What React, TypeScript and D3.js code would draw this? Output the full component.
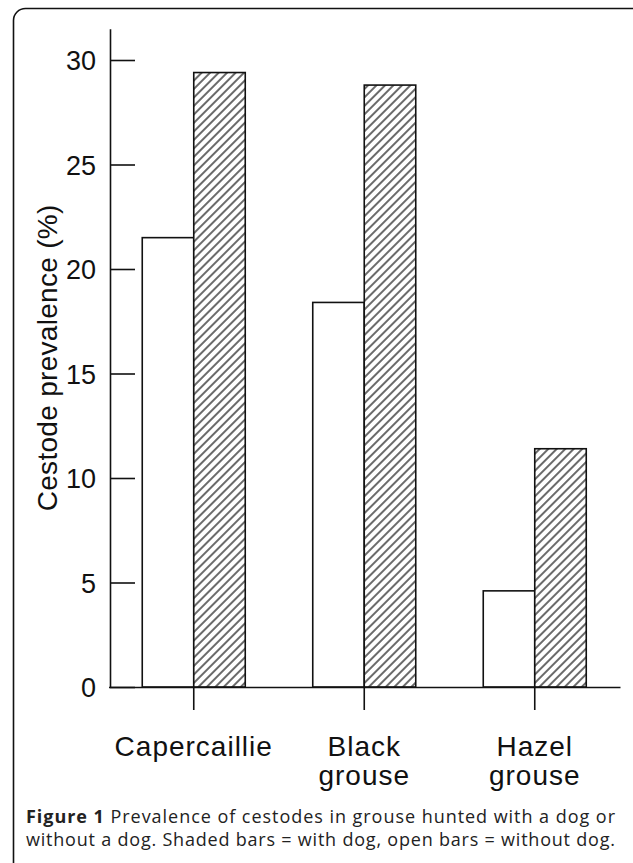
import React, { useRef, useEffect } from 'react'
import * as d3 from 'd3'

// values (% prevalence)
const categories = ['Capercaillie', 'Black grouse', 'Hazel grouse'];
const categoryLines = [['Capercaillie'], ['Black', 'grouse'], ['Hazel', 'grouse']];
const series = ['without', 'with'];
const withoutDog = [21.5, 18.4, 4.6];
const withDog = [29.4, 28.8, 11.4];
const yTicks = [0, 5, 10, 15, 20, 25, 30];
const yLabel = 'Cestode prevalence (%)';
const captionBold = 'Figure 1';
const captionLine1 = ' Prevalence of cestodes in grouse hunted with a dog or';
const captionLine2 = 'without a dog. Shaded bars = with dog, open bars = without dog.';

export default function App() {
    const visEl = useRef(null);
    const width = 633;
    const height = 863;

    useEffect(() => {
        const svg = d3
            .select(visEl.current)
            .append('svg')
            .attr('width', width)
            .attr('height', height)
            .style('position', 'absolute')
            .style('left', 0)
            .style('top', 0);

        const axisFont = '"Liberation Sans", Arial, sans-serif';
        const ink = '#111';

        // frame around the figure (bottom edge runs off the page)
        svg.append('rect')
            .attr('x', 13.5)
            .attr('y', 8.5)
            .attr('width', 640)
            .attr('height', 900)
            .attr('rx', 12)
            .attr('fill', 'none')
            .attr('stroke', ink)
            .attr('stroke-width', 1.6);

        const defs = svg.append('defs');
        const pat = defs.append('pattern')
            .attr('id', 'hatch')
            .attr('patternUnits', 'userSpaceOnUse')
            .attr('width', 6)
            .attr('height', 6)
            .attr('patternTransform', 'rotate(45)');
        pat.append('rect').attr('width', 6).attr('height', 6).attr('fill', '#fff');
        pat.append('line')
            .attr('x1', 3).attr('y1', 0).attr('x2', 3).attr('y2', 6)
            .attr('stroke', ink)
            .attr('stroke-width', 1.25);

        const x = d3.scaleBand().domain(categories).range([108.5, 620]);
        const xInner = d3.scaleBand().domain(series).range([-51.5, 51.5]);
        const y = d3.scaleLinear().domain([0, 31.5]).range([687, 28.65]);

        const g = svg.append('g');

        const rows = categories.map((c, i) => ({ c, without: withoutDog[i], with: withDog[i] }));

        const groups = g.selectAll('g.cat')
            .data(rows)
            .enter()
            .append('g')
            .attr('class', 'cat')
            .attr('transform', d => `translate(${x(d.c) + x.bandwidth() / 2},0)`);

        groups.selectAll('rect')
            .data(d => series.map(s => ({ s, v: d[s] })))
            .enter()
            .append('rect')
            .attr('x', d => xInner(d.s))
            .attr('y', d => y(d.v))
            .attr('width', xInner.bandwidth())
            .attr('height', d => y(0) - y(d.v))
            .attr('fill', d => (d.s === 'with' ? 'url(#hatch)' : '#fff'))
            .attr('stroke', ink)
            .attr('stroke-width', 1.6);

        // y axis, ticks pointing into the plot
        const yAxis = d3.axisLeft(y)
            .tickValues(yTicks)
            .tickSize(-25)
            .tickSizeOuter(0)
            .tickPadding(14);
        const yAxisG = g.append('g')
            .attr('transform', `translate(${x.range()[0] + 1.5},0)`)
            .call(yAxis);
        yAxisG.selectAll('path, line').attr('stroke', ink).attr('stroke-width', 1.6);
        yAxisG.selectAll('text')
            .attr('font-family', axisFont)
            .attr('font-size', 27)
            .attr('fill', ink)
            .attr('dy', '0.36em');

        yAxisG.append('text')
            .attr('transform', 'rotate(-90)')
            .attr('x', -(y(0) + y(31.5)) / 2)
            .attr('y', -53)
            .attr('text-anchor', 'middle')
            .attr('fill', ink)
            .attr('font-family', axisFont)
            .attr('font-size', 28)
            .attr('letter-spacing', 0.3)
            .text(yLabel);

        // x axis with ticks below the baseline
        const xAxis = d3.axisBottom(x)
            .tickSize(23)
            .tickSizeOuter(0)
            .tickFormat(() => '');
        const xAxisG = g.append('g')
            .attr('transform', `translate(0,${y(0)})`)
            .call(xAxis);
        xAxisG.selectAll('path, line').attr('stroke', ink).attr('stroke-width', 1.6);

        const labels = g.selectAll('text.cat-label')
            .data(categories)
            .enter()
            .append('text')
            .attr('class', 'cat-label')
            .attr('text-anchor', 'middle')
            .attr('font-family', axisFont)
            .attr('font-size', 28)
            .attr('letter-spacing', 1)
            .attr('fill', ink);
        labels.selectAll('tspan')
            .data((d, i) => categoryLines[i])
            .enter()
            .append('tspan')
            .attr('x', function () {
                const c = d3.select(this.parentNode).datum();
                return x(c) + x.bandwidth() / 2;
            })
            .attr('y', (d, i) => 756 + i * 29)
            .text(d => d);

        // caption, both lines justified to the same width
        const cap = svg.append('g')
            .attr('font-family', '"Open Sans", sans-serif')
            .attr('font-size', 18)
            .attr('fill', '#222');
        const l1 = cap.append('text')
            .attr('x', 26)
            .attr('y', 823)
            .attr('textLength', 589)
            .attr('lengthAdjust', 'spacing');
        l1.append('tspan').attr('font-weight', 'bold').text(captionBold);
        l1.append('tspan').text(captionLine1);
        cap.append('text')
            .attr('x', 26)
            .attr('y', 846)
            .attr('textLength', 589)
            .attr('lengthAdjust', 'spacing')
            .text(captionLine2);

        return () => { svg.remove(); };
    }, []);

    return (
        <div>
            <div ref={visEl}></div>
        </div>
    );
}
